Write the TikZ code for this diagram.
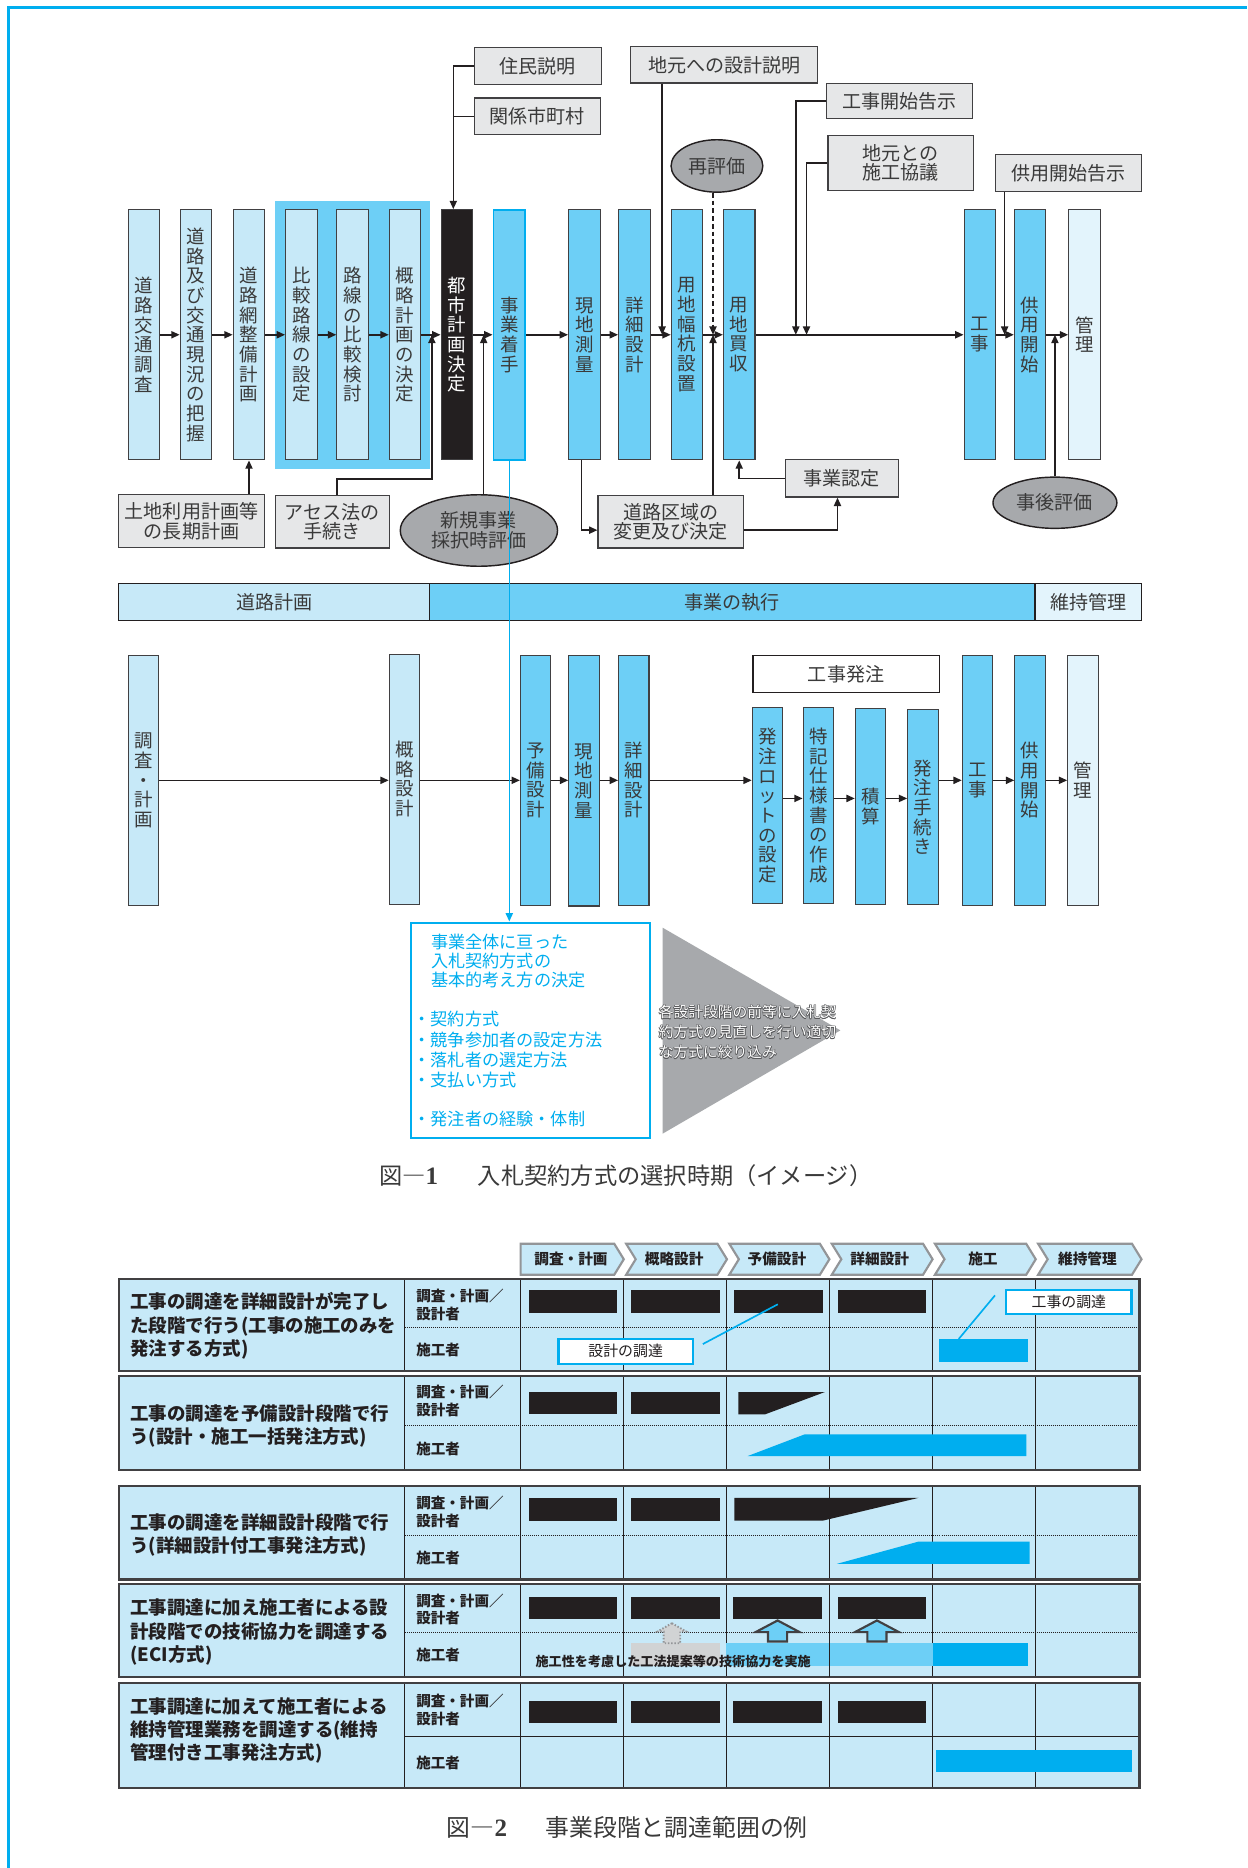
\documentclass[tikz,border=0pt]{standalone}
\usepackage{fontspec}
\newfontfamily\jp{Noto Sans CJK JP}
\newfontfamily\capnum{Liberation Serif}
\usetikzlibrary{arrows.meta,shapes.geometric,calc}
\definecolor{lb}{HTML}{C7E9F8}
\definecolor{mb}{HTML}{6DCFF6}
\definecolor{cy}{HTML}{00AEEF}
\definecolor{pb}{HTML}{E3F4FC}
\definecolor{gbox}{HTML}{E6E7E8}
\definecolor{gell}{HTML}{A7A9AC}
\definecolor{dk}{HTML}{231F20}
\definecolor{bd}{HTML}{414042}
\definecolor{tx}{HTML}{3A3A3A}
\definecolor{gr2}{HTML}{D1D3D4}
\definecolor{chb}{HTML}{939598}
\definecolor{otl}{HTML}{58595B}
\newcommand{\tgrp}[4]{%
 \fill[lb] (99.7,#1) rectangle (956.5,#2);
 \foreach \cx in {339.8,437,523.6,610.2,696.2,782.8,869.4} {\draw[colline] (\cx,#1) -- (\cx,#2);}
 \draw[#4] (339.8,#3) -- (956.5,#3);
 \draw[grpline] (99.7,#1) rectangle (956.5,#2);
}
\newcommand{\dbar}[4]{\fill[dk] (#1,#3) rectangle (#2,#4);}
\newcommand{\blkuparrow}[1]{%
 \draw[bd, line width=1.8pt, fill=mb, line join=miter] (#1,1360.2) -- (#1+18.5,1370) -- (#1+8,1370) -- (#1+8,1377.8) -- (#1-8,1377.8) -- (#1-8,1370) -- (#1-18.5,1370) -- cycle;}
\tikzset{
 vb/.style={draw=bd, line width=0.9pt, minimum width=26.5pt, minimum height=210pt, inner sep=0pt, align=center, text=tx, font=\jp\fontsize{15.5}{16.5}\selectfont},
 vc/.style={vb, minimum width=25.5pt},
 nb/.style={draw=bd, fill=gbox, line width=1pt, inner sep=0pt, align=center, text=tx, font=\jp\fontsize{16}{16.5}\selectfont},
 el/.style={ellipse, draw=dk, line width=1.2pt, fill=gell, inner sep=0pt, align=center, text=tx, font=\jp\fontsize{16}{16.5}\selectfont},
 arr/.style={draw=dk, line width=1.3pt, -{Triangle[length=7pt,width=6pt]}},
 ln/.style={draw=dk, line width=1.3pt},
 stg/.style={draw=dk, line width=1pt, minimum height=31.2pt, inner sep=0pt, text=tx, font=\jp\fontsize{16}{16}\selectfont},
 wt/.style={anchor=west, inner sep=0pt, text=cy, font=\jp\fontsize{14.4}{14.4}\selectfont},
 trt/.style={anchor=west, inner sep=0pt, align=left, font=\jp\fontsize{12.4}{16.8}\selectfont},
 captxt/.style={anchor=west, inner sep=0pt, text=tx, font=\jp\fontsize{19.5}{20}\selectfont},
 chev/.style={draw=chb, line width=1.8pt, fill=lb, line join=miter},
 hdr/.style={inner sep=0pt, text=dk, font=\jp\bfseries\fontsize{12.3}{12.3}\selectfont},
 colline/.style={draw=dk, line width=0.8pt},
 grpline/.style={draw=bd, line width=1.8pt},
 dotl/.style={draw=dk, line width=0.8pt, dash pattern=on 0.8pt off 0.9pt},
 soll/.style={draw=dk, line width=1pt},
 c1t/.style={anchor=west, align=left, inner sep=0pt, text=dk, font=\jp\bfseries\fontsize{15.5}{19.5}\selectfont},
 c2t/.style={anchor=west, align=left, inner sep=0pt, text=dk, font=\jp\bfseries\fontsize{12.2}{15}\selectfont},
 callout/.style={draw=cy, line width=2pt, fill=white, inner sep=0pt, text=dk, font=\jp\fontsize{12.5}{12.5}\selectfont},
}
\begin{document}
\begin{tikzpicture}[x=1pt,y=-1pt]
\useasboundingbox (0,0) rectangle (1047,1568);
\fill[white] (0,0) rectangle (1047,1568);
\draw[cy, line width=2.6pt] (7.5,1568) -- (7.5,6.5) -- (1047,6.5);

% ---------------- Figure 1 top ----------------
\node[fill=mb, inner sep=0pt, minimum width=130pt, minimum height=225pt] (hl) at (296,281.5) {};
\node[vb, fill=lb] (a1) at (120.8,281) {道\\路\\交\\通\\調\\査};
\node[vb, fill=lb] (a2) at (164.5,281) {道\\路\\及\\び\\交\\通\\現\\況\\の\\把\\握};
\node[vb, fill=lb] (a3) at (209,281) {道\\路\\網\\整\\備\\計\\画};
\node[vb, fill=lb] (a4) at (253,281) {比\\較\\路\\線\\の\\設\\定};
\node[vb, fill=lb] (a5) at (296,281) {路\\線\\の\\比\\較\\検\\討};
\node[vb, fill=lb] (a6) at (340,281) {概\\略\\計\\画\\の\\決\\定};
\node[vb, fill=dk, text=white] (a7) at (383.5,281) {都\\市\\計\\画\\決\\定};
\node[vb, fill=mb, draw=cy, line width=1.6pt] (a8) at (427.5,281) {事\\業\\着\\手};
\node[vb, fill=mb] (a9) at (490.5,281) {現\\地\\測\\量};
\node[vb, fill=mb] (a10) at (532.5,281) {詳\\細\\設\\計};
\node[vb, fill=mb] (a11) at (576.7,281) {用\\地\\幅\\杭\\設\\置};
\node[vb, fill=mb] (a12) at (620.5,281) {用\\地\\買\\収};
\node[vb, fill=mb] (a13) at (822.5,281) {工\\事};
\node[vb, fill=mb] (a14) at (864.7,281) {供\\用\\開\\始};
\node[vb, fill=pb] (a15) at (910.3,281) {管\\理};

\node[nb, minimum width=107pt, minimum height=31pt] (n1) at (451.5,55.5) {住民説明};
\node[nb, minimum width=106pt, minimum height=31pt] (n2) at (451,97.7) {関係市町村};
\node[nb, minimum width=157pt, minimum height=30.5pt] (n3) at (608,54.5) {地元への設計説明};
\node[nb, minimum width=122.6pt, minimum height=29.2pt] (n4) at (755.3,84.9) {工事開始告示};
\node[nb, minimum width=122pt, minimum height=46.5pt] (n5) at (756,136.8) {地元との\\施工協議};
\node[nb, minimum width=122pt, minimum height=44pt] (n6) at (563,438) {道路区域の\\変更及び決定};
\node[nb, minimum width=94.6pt, minimum height=31.3pt] (n7) at (706.7,401.6) {事業認定};
\node[nb, minimum width=122.7pt, minimum height=31pt] (n8) at (897,145.5) {供用開始告示};
\node[nb, minimum width=122.4pt, minimum height=44.6pt] (n9) at (160.8,437.3) {土地利用計画等\\の長期計画};
\node[nb, minimum width=96pt, minimum height=44pt] (n10) at (279,438) {アセス法の\\手続き};

\node[el, minimum width=77pt, minimum height=44pt] (e1) at (601.8,139.3) {再評価};
\node[el, minimum width=104pt, minimum height=43pt] (e2) at (885.5,422) {事後評価};
\node[el, minimum width=132pt, minimum height=60pt] (e3) at (402,445.3) {新規事業\\採択時評価};

\coordinate (v7) at ([xshift=-3pt]a7.north);
\coordinate (m3) at (555.8,281);
\coordinate (m4) at (668,281);
\coordinate (m5) at (677,281);
\coordinate (m6) at (598.5,281);
\coordinate (m8) at (843.3,281);
\coordinate (m9) at (885.5,281);
\coordinate (m10) at (362.5,281);
\coordinate (k10) at (362.5,402);
\coordinate (m11) at (406,281);

\draw[arr] (a1.east) -- (a2.west);
\draw[arr] (a2.east) -- (a3.west);
\draw[arr] (a3.east) -- (a4.west);
\draw[arr] (a4.east) -- (a5.west);
\draw[arr] (a5.east) -- (a6.west);
\draw[arr] (a6.east) -- (a7.west);
\draw[arr] (a7.east) -- (a8.west);
\draw[arr] (a8.east) -- (a9.west);
\draw[arr] (a9.east) -- (a10.west);
\draw[arr] (a10.east) -- (a11.west);
\draw[arr] (a11.east) -- (a12.west);
\draw[arr] (a12.east) -- (a13.west);
\draw[arr] (a13.east) -- (a14.west);
\draw[arr] (a14.east) -- (a15.west);

\draw[arr] (n1.west) -| (v7);
\draw[ln] (n2.west) -- (n2.west -| v7);
\draw[arr] (n3.south -| m3) -- (m3);
\draw[arr] (n4.west) -| (m4);
\draw[arr] (n5.west) -| (m5);
\draw[arr, dash pattern=on 4pt off 2.5pt] (e1.south -| m6) -- (m6);
\draw[arr] (n6.north -| m6) -- (m6);
\draw[arr] ([xshift=-2.5pt]a9.south) |- ([yshift=-7pt]n6.west);
\draw[arr] ([yshift=-7pt]n6.east) -| ([xshift=-3.7pt]n7.south);
\draw[arr] (n7.west) -| (a12.south);
\draw[arr] (n8.south -| m8) -- (m8);
\draw[arr] (e2.north) -- (m9);
\draw[arr] (n9.north -| a3.south) -- (a3.south);
\draw[arr] ([xshift=4pt]n10.north) |- (k10) -- (m10);
\draw[arr] (e3.north -| m11) -- (m11);

% stage bar
\node[stg, fill=lb, minimum width=260.9pt] (s1) at (230.15,505.4) {道路計画};
\node[stg, fill=mb, minimum width=508.2pt] (s2) at (614.7,505.4) {事業の執行};
\node[stg, fill=pb, minimum width=89.4pt] (s3) at (913.5,505.4) {維持管理};

% lower row
\node[vc, fill=lb] (b1) at (120.3,655) {調\\査\\・\\計\\画};
\node[vc, fill=lb] (b2) at (339.5,654) {概\\略\\設\\計};
\node[vc, fill=mb] (b3) at (449.6,655) {予\\備\\設\\計};
\node[vc, fill=mb] (b4) at (490.2,655.5) {現\\地\\測\\量};
\node[vc, fill=mb] (b5) at (532,655) {詳\\細\\設\\計};
\node[nb, fill=white, draw=dk, minimum width=156.4pt, minimum height=31.3pt] (k) at (710.2,565.7) {工事発注};
\node[vc, fill=mb, minimum height=164.5pt] (b6) at (644.2,676.2) {発\\注\\ロ\\ッ\\ト\\の\\設\\定};
\node[vc, fill=mb, minimum height=165pt] (b7) at (686.9,676) {特\\記\\仕\\様\\書\\の\\作\\成};
\node[vc, fill=mb, minimum height=164pt] (b8) at (730.7,677) {積\\算};
\node[vc, fill=mb, minimum height=164pt] (b9) at (774.7,677.5) {発\\注\\手\\続\\き};
\node[vc, fill=mb] (b10) at (820.5,655) {工\\事};
\node[vc, fill=mb] (b11) at (864.6,655) {供\\用\\開\\始};
\node[vc, fill=pb] (b12) at (909,655) {管\\理};

\draw[arr] (b1.east) -- (b1.east -| b2.west);
\draw[arr] (b2.east |- b1.east) -- (b3.west |- b1.east);
\draw[arr] (b3.east) -- (b4.west |- b3.east);
\draw[arr] (b4.east |- b3.east) -- (b5.west |- b3.east);
\draw[arr] (b5.east) -- (b5.east -| b6.west);
\draw[arr] ([yshift=6pt]b6.east) -- ([yshift=6pt]b6.east -| b7.west);
\draw[arr] ([yshift=6pt]b6.east -| b7.east) -- ([yshift=6pt]b6.east -| b8.west);
\draw[arr] ([yshift=6pt]b6.east -| b8.east) -- ([yshift=6pt]b6.east -| b9.west);
\draw[arr] (b10.west -| b9.east) -- (b10.west);
\draw[arr] (b10.east) -- (b11.west);
\draw[arr] (b11.east) -- (b12.west);

% white box with text
\node[draw=cy, line width=2pt, fill=white, inner sep=0pt, minimum width=200.7pt, minimum height=180.8pt] (w1) at (445.45,864.9) {};
\node[wt] (wt1) at (361.7,790.7) {事業全体に亘った};
\node[wt] (wt2) at (361.7,807) {入札契約方式の};
\node[wt] (wt3) at (361.7,823) {基本的考え方の決定};
\node[wt] (wt4) at (347,855.6) {・契約方式};
\node[wt] (wt5) at (347,872.7) {・競争参加者の設定方法};
\node[wt] (wt6) at (347,889.5) {・落札者の選定方法};
\node[wt] (wt7) at (347,906.3) {・支払い方式};
\node[wt] (wt8) at (347,939.6) {・発注者の経験・体制};

\draw[cy, line width=1.3pt, -{Triangle[length=7pt,width=6pt]}] (a8.south) -- (a8.south |- w1.north);

% triangle
\fill[gell] (556.2,778.7) -- (705.4,864.9) -- (556.2,951.6) -- cycle;
\foreach \dx/\dy [count=\i] in {0.5/0, -0.5/0, 0/0.5, 0/-0.5, 0.35/0.35, -0.35/0.35, 0.35/-0.35, -0.35/-0.35} {
  \node[trt, text=otl] (tro\i) at (552.8+\dx,866.3+\dy) {各設計段階の前等に入札契\\約方式の見直しを行い適切\\な方式に絞り込み};
}
\node[trt, text=white] (trw) at (552.8,866.3) {各設計段階の前等に入札契\\約方式の見直しを行い適切\\な方式に絞り込み};

% caption 1
\node[captxt] (c1a) at (318,987) {図―{\capnum\bfseries\fontsize{21}{21}\selectfont 1}};
\node[captxt] (c1b) at (401,987) {入札契約方式の選択時期（イメージ）};

% ---------------- Figure 2 ----------------
\foreach \xa/\xb/\t [count=\i] in {437/523.6/調査・計画, 523.6/610.2/概略設計, 610.2/696.2/予備設計, 696.2/782.8/詳細設計, 782.8/869.4/施工, 869.4/958.2/維持管理} {
  \ifnum\i=1
    \draw[chev] (\xa,1044) -- (\xb-8,1044) -- (\xb,1057) -- (\xb-8,1070) -- (\xa,1070) -- cycle;
  \else
    \draw[chev] (\xa+2,1044) -- (\xb-8,1044) -- (\xb,1057) -- (\xb-8,1070) -- (\xa+2,1070) -- (\xa+10,1057) -- cycle;
  \fi
  \node[hdr] (h\i) at ({(\xa+\xb)/2-1},1057) {\t};
}

\tgrp{1073.3}{1150.8}{1113.9}{dotl}
\tgrp{1155}{1233.7}{1196.5}{dotl}
\tgrp{1247.5}{1325.8}{1288.9}{dotl}
\tgrp{1329.5}{1407.3}{1370.6}{dotl}
\tgrp{1412.9}{1500.8}{1457.4}{soll}

\node[c1t] (g1t) at (109.3,1113) {工事の調達を詳細設計が完了し\\た段階で行う(工事の施工のみを\\発注する方式)};
\node[c1t] (g2t) at (109.3,1197) {工事の調達を予備設計段階で行\\う(設計・施工一括発注方式)};
\node[c1t] (g3t) at (109.3,1288.5) {工事の調達を詳細設計段階で行\\う(詳細設計付工事発注方式)};
\node[c1t] (g4t) at (109.3,1370) {工事調達に加え施工者による設\\計段階での技術協力を調達する\\(ECI方式)};
\node[c1t] (g5t) at (109.3,1452.6) {工事調達に加えて施工者による\\維持管理業務を調達する(維持\\管理付き工事発注方式)};

\node[c2t] (g1d) at (349.3,1095.2) {調査・計画／\\設計者};
\node[c2t] (g1c) at (349.3,1133.5) {施工者};
\node[c2t] (g2d) at (349.3,1175.7) {調査・計画／\\設計者};
\node[c2t] (g2c) at (349.3,1216) {施工者};
\node[c2t] (g3d) at (349.3,1269) {調査・計画／\\設計者};
\node[c2t] (g3c) at (349.3,1307.6) {施工者};
\node[c2t] (g4d) at (349.3,1351) {調査・計画／\\設計者};
\node[c2t] (g4c) at (349.3,1389) {施工者};
\node[c2t] (g5d) at (349.3,1435.5) {調査・計画／\\設計者};
\node[c2t] (g5c) at (349.3,1479.8) {施工者};

% group 1 bars
\dbar{443.8}{518}{1083}{1102.1}
\dbar{529.8}{604}{1083}{1102.1}
\dbar{616.4}{691}{1083}{1102.1}
\dbar{703}{777.2}{1083}{1102.1}
\node[fill=cy, inner sep=0pt, minimum width=74.2pt, minimum height=19.1pt] (bar1) at (825.5,1133.75) {};
\node[callout, minimum width=112.5pt, minimum height=21pt] (cb1) at (525.2,1134.2) {設計の調達};
\node[callout, minimum width=105.2pt, minimum height=20.2pt] (cb2) at (897.2,1093.1) {工事の調達};
\coordinate (p1) at (652.9,1094.8);
\draw[cy, line width=1.4pt] ([xshift=7.5pt,yshift=6pt]cb1.east) -- (p1);
\draw[cy, line width=1.4pt] ([xshift=-8.4pt,yshift=5.8pt]cb2.west) -- ([xshift=-20.8pt]bar1.north);

% group 2
\dbar{443.8}{518}{1168.5}{1187.2}
\dbar{529.8}{604}{1168.5}{1187.2}
\fill[dk] (619.7,1168.5) -- (692.3,1168.5) -- (642.2,1187.2) -- (619.7,1187.2) -- cycle;
\fill[cy] (627.6,1222.2) -- (675.4,1204) -- (861.5,1204) -- (861.5,1222.2) -- cycle;

% group 3
\dbar{443.8}{518}{1257.3}{1276.3}
\dbar{529.8}{604}{1257.3}{1276.3}
\fill[dk] (616.4,1257.3) -- (771,1257.3) -- (691.2,1276.3) -- (616.4,1276.3) -- cycle;
\fill[cy] (702.4,1312.7) -- (771,1294) -- (864.3,1294) -- (864.3,1312.7) -- cycle;

% group 4
\dbar{443.8}{518}{1340.1}{1359.1}
\dbar{529.8}{604}{1340.1}{1359.1}
\dbar{615.2}{690}{1340.1}{1359.1}
\dbar{703}{777.2}{1340.1}{1359.1}
\fill[gr2] (529.8,1379.3) rectangle (604.5,1398.4);
\fill[mb] (609.3,1379.3) rectangle (782.8,1398.4);
\fill[cy] (782.8,1379.3) rectangle (862.6,1398.4);
\draw[colline] (696.2,1370.6) -- (696.2,1407.3);
\blkuparrow{652.7}
\blkuparrow{736.1}
\draw[chb, line width=1.6pt, dash pattern=on 1.2pt off 1.5pt, fill=gr2] (564,1362.5) -- (576,1369.5) -- (571,1369.5) -- (571,1379.3) -- (557,1379.3) -- (557,1369.5) -- (552,1369.5) -- cycle;
\node[anchor=west, inner sep=0pt, text=dk, font=\jp\bfseries\fontsize{11}{11}\selectfont] (g4n) at (449.4,1394.4) {施工性を考慮した工法提案等の技術協力を実施};

% group 5
\dbar{443.8}{518}{1427.4}{1446.5}
\dbar{529.8}{604}{1427.4}{1446.5}
\dbar{615.2}{690}{1427.4}{1446.5}
\dbar{703}{777.2}{1427.4}{1446.5}
\fill[cy] (785.6,1468.6) rectangle (949.8,1487.6);

% caption 2
\node[captxt, font=\jp\fontsize{20}{20}\selectfont] (c2a) at (375,1534) {図―{\capnum\bfseries\fontsize{21}{21}\selectfont 2}};
\node[captxt, font=\jp\fontsize{20}{20}\selectfont] (c2b) at (457.8,1534) {事業段階と調達範囲の例};
\end{tikzpicture}
\end{document}
